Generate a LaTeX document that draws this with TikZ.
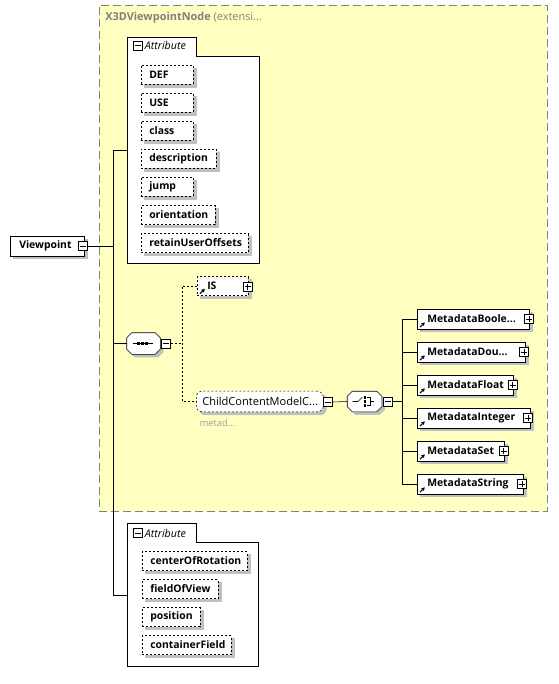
\documentclass[tikz,border=0pt]{standalone}
\usepackage{fontspec}
\setmainfont{Open Sans}
\usetikzlibrary{arrows.meta}
\pgfdeclarelayer{grouplayer}
\pgfdeclarelayer{shadowlayer}
\pgfsetlayers{grouplayer,shadowlayer,main}
\definecolor{grpfill}{RGB}{255,255,192}
\definecolor{grpline}{RGB}{128,128,128}
\definecolor{shad}{RGB}{192,192,192}
\definecolor{subtxt}{RGB}{160,160,160}
\newcommand\compshape[1]{%
  \fill[shad] ([xshift=6pt,yshift=-2.25pt]#1.north west) -- ([xshift=-1.5pt,yshift=-2.25pt]#1.north east)
    -- ([xshift=2.25pt,yshift=-6pt]#1.north east) -- ([xshift=2.25pt,yshift=1.5pt]#1.south east)
    -- ([xshift=-1.5pt,yshift=-2.25pt]#1.south east) -- ([xshift=6pt,yshift=-2.25pt]#1.south west)
    -- ([xshift=2.25pt,yshift=1.5pt]#1.south west) -- ([xshift=2.25pt,yshift=-6pt]#1.north west) -- cycle;
  \draw[fill=white] ([xshift=3.75pt]#1.north west) -- ([xshift=-3.75pt]#1.north east)
    -- ([yshift=-3.75pt]#1.north east) -- ([yshift=3.75pt]#1.south east)
    -- ([xshift=-3.75pt]#1.south east) -- ([xshift=3.75pt]#1.south west)
    -- ([yshift=3.75pt]#1.south west) -- ([yshift=-3.75pt]#1.north west) -- cycle;}
\newcommand\attrframe[1]{%
  \draw[fill=white] (#1.north west) -- ++(51.75pt,0) -- ++(0,-14.25pt) -| (#1.south east) -- (#1.south west) -- cycle;}
\newcommand\boxshadow[1]{%
  \fill[shad] ([shift={(2.25pt,-2.25pt)}]#1.south west) rectangle ([shift={(2.25pt,-2.25pt)}]#1.north east);}
\begin{document}
\begin{tikzpicture}[x=0.75pt, y=-0.75pt, line width=0.75pt,
  every node/.style={font=\fontsize{8}{10}\selectfont},
  dashline/.style={dash pattern=on 1.5pt off 1.5pt},
  attrbox/.style={draw, dashline, fill=white, font=\fontsize{7.8}{10}\selectfont\bfseries,
    anchor=west, minimum height=14.25pt, inner ysep=0pt, inner xsep=6pt, text width=#1, align=left},
  elbox/.style={draw, fill=white, font=\fontsize{7.8}{10}\selectfont\bfseries,
    anchor=west, minimum height=15pt, inner ysep=0pt, inner xsep=7.5pt, text width=#1, align=left},
  iconbox/.style={draw, fill=white, solid, minimum size=6.75pt, inner sep=0pt},
  minusbox/.style={iconbox, path picture={\draw[line width=0.75pt] ([xshift=-2.25pt]path picture bounding box.center) -- ([xshift=2.25pt]path picture bounding box.center);}},
  plusbox/.style={iconbox, path picture={\draw[line width=0.75pt] ([xshift=-2.25pt]path picture bounding box.center) -- ([xshift=2.25pt]path picture bounding box.center) ([yshift=-2.25pt]path picture bounding box.center) -- ([yshift=2.25pt]path picture bounding box.center);}},
  refarrow/.style={-{Triangle[length=2.4pt,width=2.6pt]}, line width=0.75pt},
  blank/.style={inner sep=0pt, anchor=north west}
]
\useasboundingbox (0,0) rectangle (558,684);

% group container
\begin{pgfonlayer}{grouplayer}
\node[blank, draw=grpline, fill=grpfill, dash pattern=on 6pt off 3pt, minimum width=336pt, minimum height=379.5pt] (grp) at (99,5) {};
\end{pgfonlayer}
\node[anchor=west, inner sep=0pt, text=grpline, font=\fontsize{8.2}{10}\selectfont] (title) at (105,17.5) {\textbf{X3DViewpointNode} (extensi...};

% root element
\node[elbox=42pt, inner xsep=6.75pt] (vp) at (10,246) {Viewpoint};
\node[minusbox] (vpm) at (83,246) {};

% first attribute group
\node[blank, minimum width=99pt, minimum height=169.5pt] (attrA) at (127,37) {};
\node[minusbox] (attrAm) at (138,46) {};
\node[anchor=west, inner sep=0pt, font=\fontsize{8}{10}\selectfont\itshape] (attrAt) at (144.5,46) {Attribute};
\node[attrbox=27pt] (def) at (141,75) {DEF};
\node[attrbox=27pt] (use) at (141,103) {USE};
\node[attrbox=27pt] (class) at (141,131) {class};
\node[attrbox=44.25pt] (desc) at (141,159) {description};
\node[attrbox=27pt] (jump) at (141,187) {jump};
\node[attrbox=43.5pt] (orient) at (141,215) {orientation};
\node[attrbox=68.25pt] (retain) at (141,243) {retainUserOffsets};

% second attribute group
\node[blank, minimum width=98.25pt, minimum height=107.25pt] (attrB) at (127,523) {};
\node[minusbox] (attrBm) at (138,533) {};
\node[anchor=west, inner sep=0pt, font=\fontsize{8}{10}\selectfont\itshape] (attrBt) at (144.5,533) {Attribute};
\node[attrbox=66.75pt] (cor) at (142,561) {centerOfRotation};
\node[attrbox=45pt] (fov) at (142,589) {fieldOfView};
\node[attrbox=31.5pt] (pos) at (142,617) {position};
\node[attrbox=54.75pt] (cf) at (142,645) {containerField};

\begin{pgfonlayer}{grouplayer}
\attrframe{attrA}
\attrframe{attrB}
\end{pgfonlayer}

% sequence compositor
\node[inner sep=0pt, minimum width=24.75pt, minimum height=15.75pt] (seq) at (143.5,343.5) {};
\compshape{seq}
\draw (133,343.5) -- (153,343.5);
\foreach \x in {138.5,142.5,146.5} \fill (\x-1.3,342.2) rectangle (\x+1.3,344.8);
\node[minusbox] (seqm) at (166,343.5) {};

% IS
\node[attrbox=23.25pt, inner xsep=7.5pt] (is) at (197,286) {IS};
\node[plusbox] (isp) at (247.5,286.5) {};
\draw[refarrow] ([shift={(2.25pt,1.6pt)}]is.south west) -- ++(3.6pt,3.6pt);

% ChildContentModel group
\node[draw, dashline, fill=white, rounded corners=4.5pt, anchor=west, minimum height=15.5pt,
  inner ysep=0pt, inner xsep=4.5pt, text width=86.25pt, align=left, font=\fontsize{8.3}{10}\selectfont] (ccm) at (196,401.5) {ChildContentModelC...};
\node[minusbox] (ccmm) at (328,402) {};
\node[anchor=west, inner sep=0pt, text=subtxt, font=\fontsize{7}{9}\selectfont] (ccmsub) at (199.5,423) {metad...};

% choice compositor
\node[inner sep=0pt, minimum width=25.5pt, minimum height=15pt] (cho) at (364.5,401.5) {};
\compshape{cho}
\draw (352.5,401.5) -- (358,401.5) -- (362.5,397);
\foreach \y in {397.5,401.5,405.5} \fill (363.8,\y-1.2) rectangle (366.2,\y+1.2);
\draw (367,397.5) -- (370.5,397.5) -- (370.5,405.5) -- (367,405.5) (370.5,401.5) -- (373.5,401.5);
\node[minusbox] (chom) at (387.5,401.5) {};

% metadata elements
\node[elbox=69pt] (m1) at (417,319) {MetadataBoole...};
\node[elbox=66pt] (m2) at (417,352) {MetadataDou...};
\node[elbox=57pt] (m3) at (417,385) {MetadataFloat};
\node[elbox=69.75pt] (m4) at (417,418) {MetadataInteger};
\node[elbox=50.25pt] (m5) at (417,451) {MetadataSet};
\node[elbox=64.5pt] (m6) at (417,484) {MetadataString};
\node[plusbox] (m1p) at (529,319) {};
\node[plusbox] (m2p) at (524,352) {};
\node[plusbox] (m3p) at (512.5,385) {};
\node[plusbox] (m4p) at (528,418) {};
\node[plusbox] (m5p) at (503.5,451) {};
\node[plusbox] (m6p) at (522,484) {};
\foreach \m in {m1,m2,m3,m4,m5,m6}
  \draw[refarrow] ([shift={(2.25pt,1.6pt)}]\m.south west) -- ++(3.6pt,3.6pt);

% shadows
\begin{pgfonlayer}{shadowlayer}
\foreach \n in {vp,def,use,class,desc,jump,orient,retain,cor,fov,pos,cf,is,m1,m2,m3,m4,m5,m6}
  {\boxshadow{\n}}
\fill[shad, rounded corners=4.5pt] ([shift={(2.25pt,-2.25pt)}]ccm.south west) rectangle ([shift={(2.25pt,-2.25pt)}]ccm.north east);
\end{pgfonlayer}

% connectors
\coordinate (trunk) at (113,246);
\coordinate (fork) at (182,343.5);
\coordinate (fork2) at (402,401.5);
\draw (vpm.east) -- (trunk);
\draw (attrA.west) -- (attrA.west -| trunk) -- (attrB.west -| trunk) -- (attrB.west);
\draw (seq.west) -- (seq.west -| trunk);
\draw[dashline] (seqm.east) -- (fork);
\draw[dashline] (is.west) -- (is.west -| fork) -- (ccm.west -| fork) -- (ccm.west);
\draw (ccmm.east) -- (cho.west);
\draw (chom.east) -- (fork2);
\draw (m1.west) -- (m1.west -| fork2) -- (m6.west -| fork2) -- (m6.west);
\foreach \m in {m2,m3,m4,m5} \draw (\m.west) -- (\m.west -| fork2);
\end{tikzpicture}
\end{document}
